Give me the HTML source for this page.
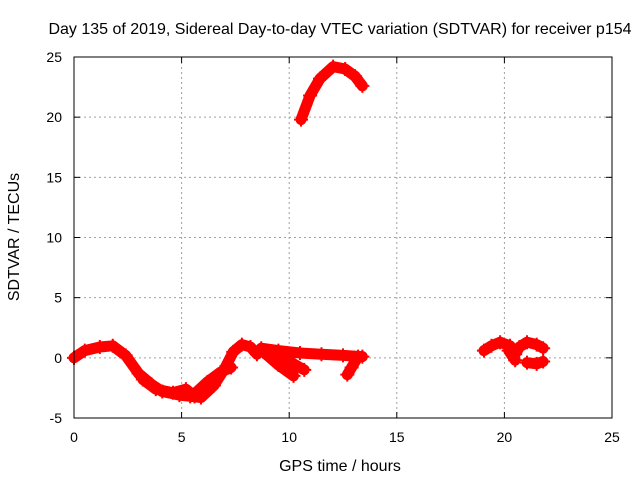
<!DOCTYPE html>
<html><head><meta charset="utf-8"><style>
body{margin:0;background:#fff}
svg{display:block;font-family:"Liberation Sans",sans-serif}
</style></head><body>
<svg id="chart" width="640" height="480">
<text x="340" y="34" font-size="16" text-anchor="middle">Day 135 of 2019, Sidereal Day-to-day VTEC variation (SDTVAR) for receiver p154</text>
<text x="340" y="471" font-size="16" text-anchor="middle">GPS time / hours</text>
<text transform="translate(19,237) rotate(-90)" font-size="16" text-anchor="middle">SDTVAR / TECUs</text>
<g id="grid"></g>
<g id="ticks"></g>
<g id="series"></g>
<rect x="74" y="57" width="538" height="361" fill="none" stroke="#000" stroke-width="1"/>
</svg>
<script>
const xTicks=[0,5,10,15,20,25];
const yTicks=[-5,0,5,10,15,20,25];
const mainTrack=[[0,0],[0.5,0.6],[1.2,0.9],[1.8,1.0],[2.4,0.2],[3.0,-1.3],[3.6,-2.2],[4.1,-2.8],[4.9,-3.1],[5.4,-3.2],[5.9,-3.3],[6.5,-2.3],[7.0,-0.9],[7.4,0.5],[7.8,1.1],[8.2,0.9],[8.5,0.3],[8.7,0.8],[9.5,0.6],[10.5,0.4],[11.5,0.3],[12.5,0.2],[13.4,0.1]];
const lowBranchA=[[3.2,-1.8],[3.8,-2.6],[4.6,-2.9],[5.2,-2.6],[5.6,-3.2]];
const lowBranchB=[[5.6,-3.0],[6.2,-2.0],[6.8,-1.2],[7.3,-0.8]];
const dropBranch1=[[8.8,0.5],[9.5,-0.6],[10.2,-1.5]];
const dropBranch2=[[9.6,0.3],[10.2,-0.5],[10.7,-1.0]];
const dropBranch3=[[13.2,0.1],[12.9,-0.8],[12.7,-1.4]];
const arcTrack=[[10.55,19.8],[10.97,21.8],[11.43,23.2],[12.04,24.2],[12.6,24.0],[13.06,23.4],[13.4,22.6]];
const rightA=[[19.05,0.6],[19.4,1.0],[19.8,1.3],[20.26,1.0],[20.5,0.3],[20.7,0.9],[21.05,1.3],[21.5,1.1],[21.8,0.8]];
const rightB=[[20.2,0.6],[20.5,-0.2]];
const rightC=[[21.05,-0.4],[21.5,-0.5],[21.8,-0.3]];
const allSeries=[mainTrack,lowBranchA,lowBranchB,dropBranch1,dropBranch2,dropBranch3,arcTrack,rightA,rightB,rightC];
const NS="http://www.w3.org/2000/svg";
const X0=74,X1=612,Y0=418,Y1=57;
function xs(v){return X0+(v-0)/25*(X1-X0);}
function ys(v){return Y0-(v+5)/30*(Y0-Y1);}
function mk(t,a,p){const e=document.createElementNS(NS,t);for(const k in a)e.setAttribute(k,a[k]);p.appendChild(e);return e;}
const grid=document.getElementById('grid'),ticks=document.getElementById('ticks'),ser=document.getElementById('series');
xTicks.forEach(v=>{const x=xs(v);
 if(v>0&&v<25){const l=mk('line',{x1:x,x2:x,y1:Y1,y2:Y0,stroke:'#a0a0a0','stroke-dasharray':'2,3'},grid);
 
 }
 mk('line',{x1:x,x2:x,y1:Y0,y2:Y0-6,stroke:'#000'},ticks);
 mk('line',{x1:x,x2:x,y1:Y1,y2:Y1+6,stroke:'#000'},ticks);
 const t=mk('text',{x:x,y:Y0+24,'font-size':14,'text-anchor':'middle'},ticks);t.textContent=v;
 
 });
yTicks.forEach(v=>{const y=ys(v);
 if(v>-5&&v<25){const l=mk('line',{x1:X0,x2:X1,y1:y,y2:y,stroke:'#a0a0a0','stroke-dasharray':'2,3'},grid);
 
 }
 mk('line',{x1:X0,x2:X0+6,y1:y,y2:y,stroke:'#000'},ticks);
 mk('line',{x1:X1,x2:X1-6,y1:y,y2:y,stroke:'#000'},ticks);
 const t=mk('text',{x:X0-12,y:y+5,'font-size':14,'text-anchor':'end'},ticks);t.textContent=v;
 
 });
allSeries.forEach(s=>{
 const p=mk('polyline',{points:s.map(d=>xs(d[0])+','+ys(d[1])).join(' '),fill:'none',stroke:'#f00','stroke-width':11,'stroke-linejoin':'round','stroke-linecap':'round'},ser);
 
 
 s.forEach(d=>{const x=xs(d[0]),y=ys(d[1]);
  const m=mk('path',{d:`M${x-7},${y}h14M${x},${y-7}v14`,stroke:'#f00','stroke-width':2},ser);
  
  });
});
</script>
</body></html>
